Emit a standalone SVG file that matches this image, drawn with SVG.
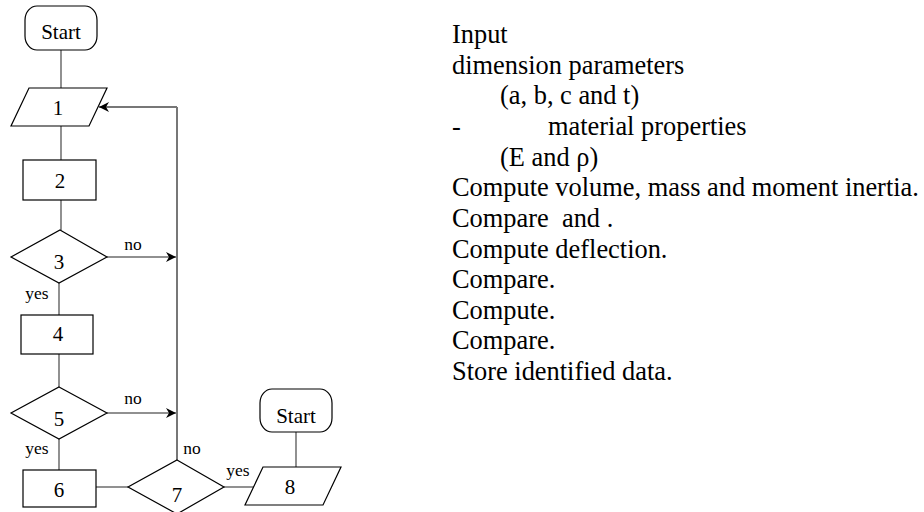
<svg xmlns="http://www.w3.org/2000/svg" width="924" height="512" viewBox="0 0 924 512">
<style>
.shape{fill:#fff;stroke:#000;stroke-width:1.2}
.conn{fill:none;stroke:#555;stroke-width:1.3}
.main{fill:none;stroke:#777;stroke-width:2}
.arr{fill:none;stroke:#222;stroke-width:1.1}
.node{font-family:"Liberation Serif","Times New Roman",serif;font-size:21px;fill:#000;text-anchor:middle}
.lbl{font-family:"Liberation Serif","Times New Roman",serif;font-size:17.5px;fill:#000;text-anchor:middle}
.desc{font-family:"Liberation Serif","Times New Roman",serif;font-size:26.4px;fill:#000;white-space:pre}
</style>
<defs>
<marker id="ah" markerUnits="userSpaceOnUse" markerWidth="12" markerHeight="10" refX="10" refY="5" orient="auto">
<path d="M0,0 L10,5 L0,10 L3,5 z" fill="#000"/>
</marker>
</defs>
<rect width="924" height="512" fill="#fff"/>
<g id="connectors">
<line class="conn" x1="61" y1="50" x2="61" y2="88"/>
<line class="conn" x1="61" y1="126" x2="61" y2="160"/>
<line class="conn" x1="61" y1="200" x2="61" y2="230"/>
<line class="conn" x1="59" y1="283" x2="59" y2="315"/>
<line class="conn" x1="59" y1="354" x2="59" y2="387"/>
<line class="conn" x1="59" y1="439" x2="59" y2="470"/>
<line class="conn" x1="96" y1="487" x2="128" y2="487"/>
<line class="conn" x1="224" y1="487" x2="254" y2="487"/>
<line class="conn" x1="296" y1="432" x2="296" y2="467"/>
<line class="main" x1="177" y1="460" x2="177" y2="107"/>
<line class="main" x1="177" y1="107" x2="99" y2="107" marker-end="url(#ah)"/>
<line class="arr" x1="107" y1="257" x2="176" y2="257" marker-end="url(#ah)"/>
<line class="arr" x1="107" y1="413" x2="176" y2="413" marker-end="url(#ah)"/>
<text class="lbl" x="133" y="250">no</text>
<text class="lbl" x="37" y="299">yes</text>
<text class="lbl" x="133" y="404">no</text>
<text class="lbl" x="37" y="454">yes</text>
<text class="lbl" x="192" y="454">no</text>
<text class="lbl" x="238" y="476">yes</text>
</g>
<g id="start1">
<rect class="shape" x="25" y="6" width="72" height="44" rx="12" ry="14"/>
<text class="node" x="61" y="39">Start</text>
</g>
<g id="n1">
<polygon class="shape" points="29,88 107,88 89,126 11,126"/>
<text class="node" x="58" y="115">1</text>
</g>
<g id="n2">
<rect class="shape" x="23" y="160" width="73" height="40"/>
<text class="node" x="60" y="188">2</text>
</g>
<g id="n3">
<polygon class="shape" points="60,230 107,257 59,283 11,257"/>
<text class="node" x="59" y="269">3</text>
</g>
<g id="n4">
<rect class="shape" x="21" y="315" width="72" height="39"/>
<text class="node" x="58" y="341">4</text>
</g>
<g id="n5">
<polygon class="shape" points="59,387 107,413 59,439 11,413"/>
<text class="node" x="59" y="426">5</text>
</g>
<g id="n6">
<rect class="shape" x="23" y="470" width="73" height="37"/>
<text class="node" x="59" y="497">6</text>
</g>
<g id="n7">
<polygon class="shape" points="177,460 224,487 177,514 128,487"/>
<text class="node" x="177" y="502">7</text>
</g>
<g id="n8">
<polygon class="shape" points="263,467 341,467 323,505 245,505"/>
<text class="node" x="290" y="494">8</text>
</g>
<g id="start2">
<rect class="shape" x="260" y="389" width="72" height="43" rx="12" ry="14"/>
<text class="node" x="296" y="423">Start</text>
</g>
<g id="description">
<text class="desc" x="452" y="43">Input</text>
<text class="desc" x="452" y="73.6">dimension parameters</text>
<text class="desc" x="500" y="104.3">(a, b, c and t)</text>
<text class="desc" x="452" y="134.9">-</text>
<text class="desc" x="548" y="134.9">material properties</text>
<text class="desc" x="500" y="165.6">(E and ρ)</text>
<text class="desc" x="452" y="196.2">Compute volume, mass and moment inertia.</text>
<text class="desc" x="452" y="226.8">Compare  and .</text>
<text class="desc" x="452" y="257.5">Compute deflection.</text>
<text class="desc" x="452" y="288.1">Compare.</text>
<text class="desc" x="452" y="318.8">Compute.</text>
<text class="desc" x="452" y="349.4">Compare.</text>
<text class="desc" x="452" y="380">Store identified data.</text>
</g>
</svg>
